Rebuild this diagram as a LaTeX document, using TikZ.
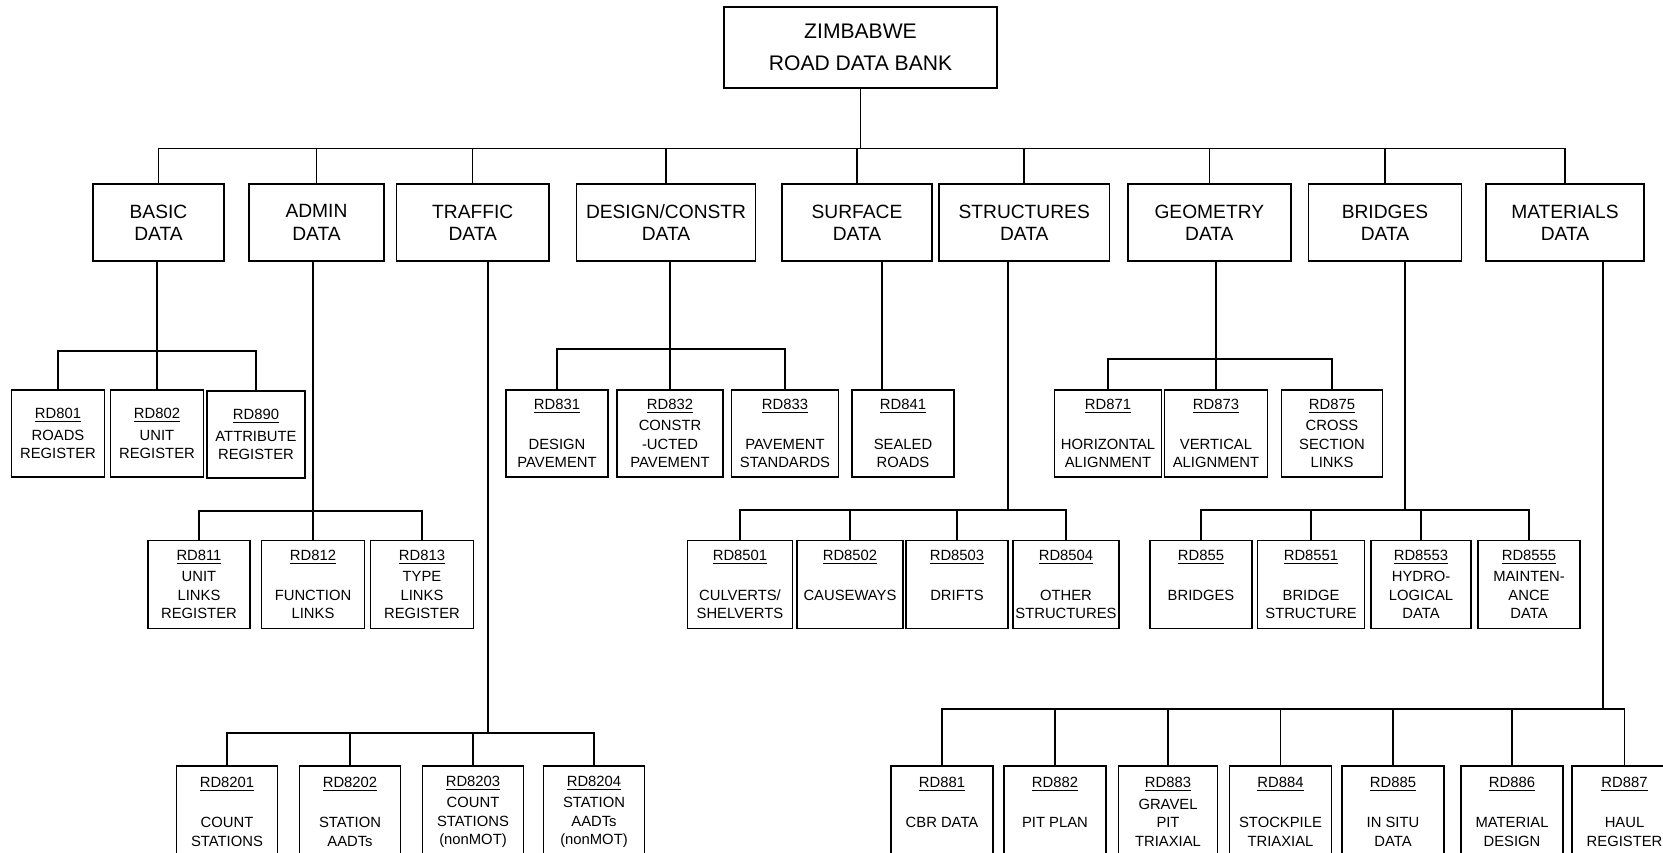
\documentclass[tikz,border=0pt]{standalone}
\usepackage{fontspec}
\setmainfont{Liberation Sans}
\usepackage{tikz}
\tikzstyle{bankbox}=[draw,line width=0.75pt,align=center,inner sep=1pt,minimum width=136.5pt,minimum height=40.5pt,font=\fontsize{10.55}{15.8}\selectfont]
\tikzstyle{headbox}=[draw,line width=0.75pt,align=center,inner sep=1pt,minimum height=38.5pt,font=\fontsize{9.6}{11.2}\selectfont]
\tikzstyle{leafbox}=[draw,line width=0.75pt,align=center,inner sep=0.5pt,font=\fontsize{7.4}{9.25}\selectfont]
\tikzstyle{edge} = [draw,line width=0.75pt,-]

\begin{document}
\begin{tikzpicture}[x=0.5pt,y=-0.5pt]
    \useasboundingbox (0,0) rectangle (1663,852);
    \clip (0,0) rectangle (1663,852);
    % Draw the road data bank tree
    % First the root and the data groups
    \node[bankbox] (rdb) at (860.5,47.5) {ZIMBABWE\\ROAD DATA BANK};
    \foreach \pos/\w/\name/\txt in {{(158.5,222.5)/65.5pt/basic/BASIC\\DATA}, {(316.5,222.5)/67.3pt/admin/ADMIN\\DATA}, {(472.7,222.5)/76.2pt/traffic/TRAFFIC\\DATA}, {(666,222.5)/89.6pt/design/{DESIGN/CONSTR\\DATA}}, {(857,222.5)/75pt/surface/SURFACE\\DATA}, {(1024.2,222.5)/85.2pt/struct/STRUCTURES\\DATA}, {(1209.3,222.5)/81.5pt/geom/GEOMETRY\\DATA}, {(1385,222.5)/76.3pt/bridges/BRIDGES\\DATA}, {(1565,222.5)/79.2pt/materials/MATERIALS\\DATA}}
        \node[headbox,minimum width=\w] (\name) at \pos {\txt};

    % Then the registers, row by row
    \foreach \pos/\w/\name/\txt in {{(58,433.5)/46.4pt/RD801/ROADS\\REGISTER}, {(157,433.5)/46.6pt/RD802/UNIT\\REGISTER}, {(256,434.5)/49.2pt/RD890/ATTRIBUTE\\REGISTER}, {(557,433.5)/51.1pt/RD831/~\\DESIGN\\PAVEMENT}, {(670,433.5)/52.8pt/RD832/CONSTR\\-UCTED\\PAVEMENT}, {(785,433.5)/53.4pt/RD833/~\\PAVEMENT\\STANDARDS}, {(903,433.5)/50.9pt/RD841/~\\SEALED\\ROADS}, {(1108,433.5)/53.7pt/RD871/~\\HORIZONTAL\\ALIGNMENT}, {(1216,433.5)/51.5pt/RD873/~\\VERTICAL\\ALIGNMENT}, {(1332,433.5)/50.6pt/RD875/CROSS\\SECTION\\LINKS}}
        \node[leafbox,minimum width=\w,minimum height=43.5pt] (\name) at \pos {\underline{\name}\\[1.5pt]\txt};
    \foreach \pos/\w/\name/\txt in {{(199,584.5)/51.2pt/RD811/UNIT\\LINKS\\REGISTER}, {(313,584.5)/51.4pt/RD812/~\\FUNCTION\\LINKS}, {(422,584.5)/51.3pt/RD813/TYPE\\LINKS\\REGISTER}, {(740,584.5)/52.7pt/RD8501/{~\\CULVERTS/\\SHELVERTS}}, {(850,584.5)/53pt/RD8502/~\\CAUSEWAYS\\~}, {(957,584.5)/51.1pt/RD8503/~\\DRIFTS\\~}, {(1066,584.5)/53pt/RD8504/~\\OTHER\\STRUCTURES}, {(1201,584.5)/50.8pt/RD855/~\\BRIDGES\\~}, {(1311,584.5)/53.6pt/RD8551/~\\BRIDGE\\STRUCTURE}, {(1421,584.5)/50.2pt/RD8553/HYDRO-\\LOGICAL\\DATA}, {(1529,584.5)/51.1pt/RD8555/MAINTEN-\\ANCE\\DATA}}
        \node[leafbox,minimum width=\w,minimum height=44pt] (\name) at \pos {\underline{\name}\\[1.5pt]\txt};
    \foreach \pos/\w/\name/\txt in {{(227,812)/50.5pt/RD8201/~\\COUNT\\STATIONS}, {(350,812)/50.5pt/RD8202/~\\STATION\\AADTs}, {(473,812)/50.5pt/RD8203/COUNT\\STATIONS\\(nonMOT)}, {(594,812)/50.5pt/RD8204/STATION\\AADTs\\(nonMOT)}, {(942,812)/51pt/RD881/~\\CBR DATA\\~}, {(1055,812)/51.2pt/RD882/~\\PIT PLAN\\~}, {(1168,812)/49.3pt/RD883/GRAVEL\\PIT\\TRIAXIAL}, {(1280.5,812)/50.9pt/RD884/~\\STOCKPILE\\TRIAXIAL}, {(1393,812)/50.9pt/RD885/~\\IN SITU\\DATA}, {(1512,812)/50.8pt/RD886/~\\MATERIAL\\DESIGN}, {(1624.5,812)/52.5pt/RD887/~\\HAUL\\REGISTER}}
        \node[leafbox,minimum width=\w,minimum height=46pt] (\name) at \pos {\underline{\name}\\[1.5pt]\txt};

    % Connect the groups to the root
    \coordinate (jrdb) at (860.5,148.5);
    \path[edge] (rdb.south) -- (jrdb);
    \foreach \dest in {basic,admin,traffic,design,surface,struct,geom,bridges,materials}
        \path[edge] (jrdb) -| (\dest.north);

    % Stems below the groups
    \foreach \source/\jx/\jy in {basic/157/351, admin/313/511, traffic/488/733, design/670/349, surface/882/390, struct/1008/510, geom/1216/359, bridges/1405/510, materials/1603/709}
    {
        \coordinate (j\source) at (\jx,\jy);
        \path[edge] (\source.south -| j\source) -- (j\source);
    }

    % Connect the registers to their groups
    \foreach \source/\dest in {jbasic/RD801, jbasic/RD802, jbasic/RD890, jadmin/RD811, jadmin/RD812, jadmin/RD813, jtraffic/RD8201, jtraffic/RD8202, jtraffic/RD8203, jtraffic/RD8204, jdesign/RD831, jdesign/RD832, jdesign/RD833, jstruct/RD8501, jstruct/RD8502, jstruct/RD8503, jstruct/RD8504, jgeom/RD871, jgeom/RD873, jgeom/RD875, jbridges/RD855, jbridges/RD8551, jbridges/RD8553, jbridges/RD8555, jmaterials/RD881, jmaterials/RD882, jmaterials/RD883, jmaterials/RD884, jmaterials/RD885, jmaterials/RD886, jmaterials/RD887}
        \path[edge] (\source) -| (\dest.north);
\end{tikzpicture}
\end{document}
